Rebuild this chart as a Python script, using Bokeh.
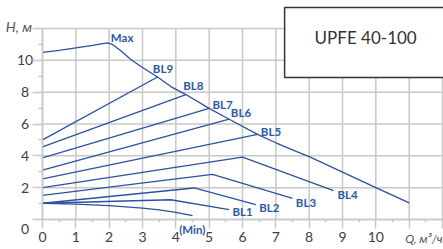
from bokeh.plotting import figure
from bokeh.models import Range1d, FixedTicker, Label
from bokeh.core.properties import value
from bokeh.embed import file_html
from bokeh.resources import INLINE

# ---- data ----
max_q = [0, 0.5, 1.0, 1.5, 1.95, 2.1, 2.35, 2.65, 3.0, 3.45, 3.85, 4.3, 5.0, 5.6, 6.45, 7.0, 7.5, 8.0, 9.0, 10.0, 11.0]
max_h = [10.5, 10.63, 10.78, 10.94, 11.1, 11.0, 10.6, 10.05, 9.55, 8.95, 8.35, 7.85, 6.98, 6.3, 5.35, 4.82, 4.38, 3.95, 2.98, 2.0, 1.05]

bl9_q = [0, 3.45]
bl9_h = [5.0, 8.95]
bl8_q = [0, 4.3]
bl8_h = [4.56, 7.85]
bl7_q = [0, 5.0]
bl7_h = [3.87, 6.98]
bl6_q = [0, 5.6]
bl6_h = [3.1, 6.3]
bl5_q = [0, 6.45]
bl5_h = [2.55, 5.35]
bl4_q = [0, 6.0, 8.73]
bl4_h = [2.0, 3.92, 1.82]
bl3_q = [0, 5.1, 7.5]
bl3_h = [1.51, 2.83, 1.32]
bl2_q = [0, 4.55, 6.4]
bl2_h = [1.02, 1.98, 0.94]
bl1_q = [0, 3.85, 5.6]
bl1_h = [1.02, 1.24, 0.62]
min_q = [0, 1.0, 2.0, 3.0, 3.5, 4.0, 4.5]
min_h = [1.02, 0.97, 0.87, 0.72, 0.6, 0.45, 0.25]

label_text = ["Max", "BL9", "BL8", "BL7", "BL6", "BL5", "BL4", "BL3", "BL2", "BL1", "(Min)"]
label_q = [2.05, 3.31, 4.22, 5.1, 5.65, 6.55, 8.85, 7.6, 6.5, 5.7, 4.1]
label_h = [11.43, 9.48, 8.45, 7.25, 6.7, 5.5, 1.55, 1.08, 0.77, 0.5, -0.62]

q_max = 12
h_max = 12
x_ticks = list(range(0, 13))
x_minor = [i + 0.5 for i in range(0, 12)]
y_ticks = list(range(0, 13, 2))
y_minor = list(range(1, 12, 2))
y_label_vals = [2, 4, 6, 8, 10]
y_zero_text = "0"

title_text = "UPFE 40-100"
y_title = "H, м"
x_title = "Q, м³/ч"

# ---- layout: the frame fills the canvas, axes sit at Q=0 / H=0 ----
W, H = 443, 249
left_px, right_px, top_px, bottom_px = 42, 1, 28, 30
ppx = (W - left_px - right_px) / q_max
ppy = (H - top_px - bottom_px) / h_max
ylab_x = -17.5 / ppx          # centre of the y tick labels (screen offset from Q=0)
zero_y = -9 / ppy              # the "0" of the H axis sits lower than its grid line

grid_c = "#c8c8c8"
line_c = "#2a52a0"
lab_c = "#2c58a6"
tick_c = "#404040"

p = figure(width=W, height=H,
           x_range=Range1d(-left_px / ppx, q_max + right_px / ppx),
           y_range=Range1d(-bottom_px / ppy, h_max + top_px / ppy),
           output_backend="svg", toolbar_location=None, min_border=0)
p.background_fill_color = "white"
p.border_fill_color = "white"
p.outline_line_color = None
p.grid.visible = False

# grid lines from the tick lists
p.segment(x0=x_ticks, y0=[0] * len(x_ticks), x1=x_ticks, y1=[h_max] * len(x_ticks),
          line_color=grid_c, line_width=1.5)
p.segment(x0=[0] * len(y_ticks), y0=y_ticks, x1=[q_max] * len(y_ticks), y1=y_ticks,
          line_color=grid_c, line_width=1.5)

p.xaxis.fixed_location = 0
p.yaxis.fixed_location = 0
p.xaxis.bounds = (0, q_max)
p.yaxis.bounds = (0, h_max)
p.xaxis.ticker = FixedTicker(ticks=x_ticks, minor_ticks=x_minor)
p.yaxis.ticker = FixedTicker(ticks=y_ticks, minor_ticks=y_minor)
p.xaxis.major_label_overrides = {11: "", 12: ""}
p.yaxis.major_label_overrides = {t: "" for t in y_ticks}

for ax in (p.xaxis, p.yaxis):
    ax.axis_line_color = grid_c
    ax.axis_line_width = 1.5
    ax.major_tick_line_color = grid_c
    ax.major_tick_line_width = 1.5
    ax.minor_tick_line_color = grid_c
    ax.minor_tick_line_width = 1.5
    ax.major_tick_in = 0
    ax.minor_tick_in = 0
    ax.major_label_text_font = "Lato"
    ax.major_label_text_font_size = "14px"
    ax.major_label_text_color = tick_c
p.xaxis.major_tick_out = 9
p.xaxis.minor_tick_out = 3
p.xaxis.major_label_standoff = 3
p.yaxis.major_tick_out = 10
p.yaxis.minor_tick_out = 4

# y tick labels, centred as in the reference
p.text(x=[ylab_x] * len(y_label_vals), y=y_label_vals, text=[str(v) for v in y_label_vals],
       text_font=value("Lato"), text_font_size=value("14px"), text_color=tick_c,
       text_align="center", text_baseline="middle")
p.text(x=[ylab_x], y=[zero_y], text=[y_zero_text],
       text_font=value("Lato"), text_font_size=value("14px"), text_color=tick_c,
       text_align="center", text_baseline="middle")

# ---- curves ----
curves = [(max_q, max_h), (bl9_q, bl9_h), (bl8_q, bl8_h), (bl7_q, bl7_h),
          (bl6_q, bl6_h), (bl5_q, bl5_h), (bl4_q, bl4_h), (bl3_q, bl3_h),
          (bl2_q, bl2_h), (bl1_q, bl1_h), (min_q, min_h)]
for q, h in curves:
    p.line(q, h, line_color=line_c, line_width=1.3)

# ---- labels ----
for t, q, h in zip(label_text, label_q, label_h):
    p.add_layout(Label(x=q, y=h, text=t, text_font="Lato", text_font_style="bold",
                       text_font_size="11.5px", text_color=lab_c,
                       text_align="left", text_baseline="middle"))

p.add_layout(Label(x=-1.1, y=12.1, text=y_title, text_font="Lato", text_font_style="italic",
                   text_font_size="14px", text_color="#555555",
                   text_align="left", text_baseline="middle"))
p.add_layout(Label(x=q_max, y=-1.21, text=x_title, text_font="Lato", text_font_style="italic",
                   text_font_size="12px", text_color="#555555",
                   text_align="right", text_baseline="middle"))

p.add_layout(Label(x=9.68, y=11.12, text=title_text, text_font="Lato", text_font_size="17px",
                   text_color="#333333", text_align="center", text_baseline="middle",
                   background_fill_color="white", border_line_color="#333333",
                   border_line_width=1.5, padding=(30, 29, 19, 30)))

with open("out.html", "w", encoding="utf-8") as f:
    f.write(file_html(p, INLINE))
